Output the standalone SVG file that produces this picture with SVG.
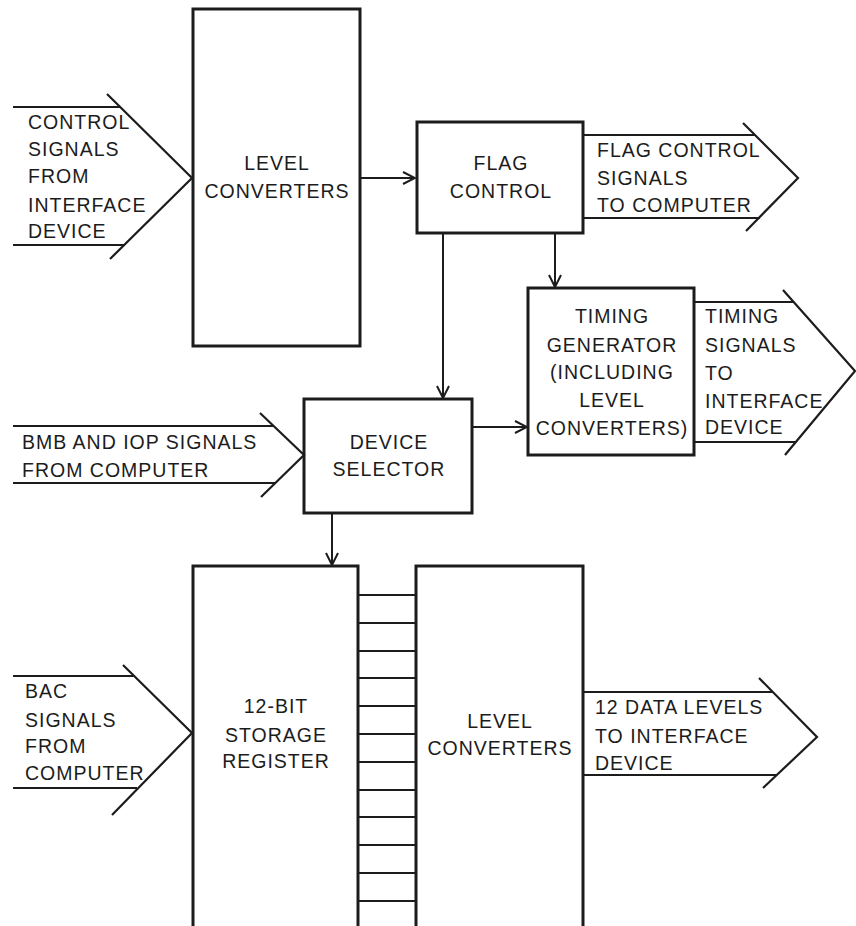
<svg xmlns="http://www.w3.org/2000/svg" width="856" height="926" viewBox="0 0 856 926">
<style>
.box{fill:none;stroke:#1c1c1c;stroke-width:3}
.ln{fill:none;stroke:#1c1c1c;stroke-width:2}
.big{fill:none;stroke:#1c1c1c;stroke-width:2.2}
text{font-family:"Liberation Sans",Arial,sans-serif;font-size:19.5px;letter-spacing:1px;fill:#1c1c1c}
.c{text-anchor:middle}
</style>
<defs>
<marker id="ah" viewBox="0 0 14 14" refX="13" refY="7" markerWidth="14" markerHeight="14" markerUnits="userSpaceOnUse" orient="auto">
<path d="M1,1 L13,7 L1,13" fill="none" stroke="#1c1c1c" stroke-width="2"/>
</marker>
</defs>
<rect width="856" height="926" fill="#fff"/>

<g id="in-control">
<path class="big" d="M13,107 H120 M13,245 H125 M107,94 L192,178 L110,259"/>
<text x="28" y="129">CONTROL</text>
<text x="28" y="156">SIGNALS</text>
<text x="28" y="183">FROM</text>
<text x="28" y="212">INTERFACE</text>
<text x="28" y="238">DEVICE</text>
</g>

<g id="level-converters-1">
<rect class="box" x="193" y="9" width="167" height="337"/>
<text class="c" x="277" y="170">LEVEL</text>
<text class="c" x="277" y="198">CONVERTERS</text>
</g>

<g id="flag-control">
<rect class="box" x="417" y="122" width="166" height="111"/>
<text class="c" x="501" y="170">FLAG</text>
<text class="c" x="501" y="198">CONTROL</text>
</g>

<g id="out-flag">
<path class="big" d="M583,135 H755 M583,218 H760 M743,123 L798,178 L746,231"/>
<text x="597" y="157">FLAG CONTROL</text>
<text x="597" y="185">SIGNALS</text>
<text x="597" y="212">TO COMPUTER</text>
</g>

<g id="timing-generator">
<rect class="box" x="528" y="288" width="166" height="167"/>
<text class="c" x="612" y="323">TIMING</text>
<text class="c" x="612" y="352">GENERATOR</text>
<text class="c" x="612" y="379">(INCLUDING</text>
<text class="c" x="612" y="407">LEVEL</text>
<text class="c" x="612" y="435">CONVERTERS)</text>
</g>

<g id="out-timing">
<path class="big" d="M694,302 H794 M694,442 H796 M783,290 L855,371 L785,455"/>
<text x="705" y="323">TIMING</text>
<text x="705" y="352">SIGNALS</text>
<text x="705" y="380">TO</text>
<text x="705" y="408">INTERFACE</text>
<text x="705" y="434">DEVICE</text>
</g>

<g id="in-bmb">
<path class="big" d="M13,426 H273 M13,483 H276 M260,413 L304,455 L261,497"/>
<text x="22" y="449">BMB AND IOP SIGNALS</text>
<text x="22" y="477">FROM COMPUTER</text>
</g>

<g id="device-selector">
<rect class="box" x="304" y="399" width="168" height="114"/>
<text class="c" x="389" y="449">DEVICE</text>
<text class="c" x="389" y="476">SELECTOR</text>
</g>

<g id="in-bac">
<path class="big" d="M13,676 H134 M13,788 H137 M123,665 L192,733 L112,815"/>
<text x="25" y="698">BAC</text>
<text x="25" y="727">SIGNALS</text>
<text x="25" y="753">FROM</text>
<text x="25" y="780">COMPUTER</text>
</g>

<g id="storage-register">
<path class="box" d="M193,930 V566 H358 V930"/>
<text class="c" x="276" y="713">12-BIT</text>
<text class="c" x="276" y="742">STORAGE</text>
<text class="c" x="276" y="768">REGISTER</text>
</g>

<g id="level-converters-2">
<path class="box" d="M416,930 V566 H583 V930"/>
<text class="c" x="500" y="728">LEVEL</text>
<text class="c" x="500" y="755">CONVERTERS</text>
</g>

<g id="out-data">
<path class="big" d="M583,692 H773 M583,775 H776 M759,678 L817,737 L763,788"/>
<text x="595" y="714">12 DATA LEVELS</text>
<text x="595" y="743">TO INTERFACE</text>
<text x="595" y="770">DEVICE</text>
</g>

<g id="connectors">
<path class="ln" d="M360,178 H415" marker-end="url(#ah)"/>
<path class="ln" d="M443,233 V398" marker-end="url(#ah)"/>
<path class="ln" d="M555,233 V287" marker-end="url(#ah)"/>
<path class="ln" d="M472,427 H527" marker-end="url(#ah)"/>
<path class="ln" d="M332,513 V565" marker-end="url(#ah)"/>
<path class="ln" d="M358,595 H416 M358,623 H416 M358,651 H416 M358,678 H416 M358,706 H416 M358,734 H416 M358,762 H416 M358,790 H416 M358,817 H416 M358,845 H416 M358,873 H416 M358,901 H416"/>
</g>
</svg>
